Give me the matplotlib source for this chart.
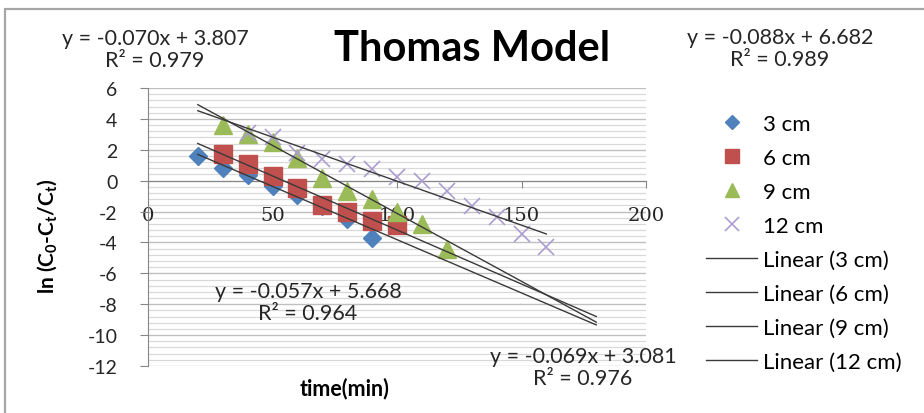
import numpy as np
import matplotlib
matplotlib.use('Agg')
import matplotlib.pyplot as plt
from matplotlib.patches import Rectangle

plt.rcParams['font.family'] = ['Lato', 'DejaVu Sans']
plt.rcParams['mathtext.fontset'] = 'custom'
plt.rcParams['mathtext.rm'] = 'Lato'
plt.rcParams['mathtext.bf'] = 'Lato:bold'
plt.rcParams['axes.unicode_minus'] = False

# bed depth series: time (min) vs ln(C0-Ct/Ct)
t_3 = [20, 30, 40, 50, 60, 70, 80, 90]
y_3 = [1.6, 0.8, 0.37, -0.35, -0.95, -1.65, -2.5, -3.7]

t_6 = [30, 40, 50, 60, 70, 80, 90, 100]
y_6 = [1.7, 1.05, 0.3, -0.45, -1.6, -2.05, -2.6, -2.9]

t_9 = [30, 40, 50, 60, 70, 80, 90, 100, 110, 120]
y_9 = [3.6, 3.0, 2.5, 1.5, 0.2, -0.7, -1.2, -2.0, -2.8, -4.4]

t_12 = [40, 50, 60, 70, 80, 90, 100, 110, 120, 130, 140, 150, 160]
y_12 = [3.1, 2.85, 1.8, 1.4, 1.08, 0.76, 0.22, 0.0, -0.65, -1.62, -2.37, -3.45, -4.31]

# linear fits: slope, intercept, r2, x range of the trendline
fit_3 = (-0.069, 3.081, 0.976, 20, 180)
fit_6 = (-0.070, 3.807, 0.979, 20, 180)
fit_9 = (-0.088, 6.682, 0.989, 20, 180)
fit_12 = (-0.057, 5.668, 0.964, 20, 160)

fig = plt.figure(figsize=(9.24, 4.14), dpi=100)
fig.patches.append(Rectangle((5 / 924, -0.05), 1.0, 1 - 10 / 414 + 0.05,
                             transform=fig.transFigure, fill=False,
                             edgecolor='#a6a6a6', linewidth=1.6))

ax = fig.add_axes([148 / 924, 1 - 367 / 414, 498 / 924, 278 / 414])

# horizontal gridlines, major every 2 and minor every 0.4
for v in np.arange(-12, 6.01, 0.4):
    major = abs(v / 2 - round(v / 2)) < 1e-6
    ax.axhline(v, color='#bfbfbf' if major else '#d9d9d9',
               linewidth=1.0 if major else 0.9, zorder=0)

ax.plot(t_3, y_3, 'D', color='#4f81bd', ms=9, label='3 cm', zorder=3)
ax.plot(t_6, y_6, 's', color='#c0504d', ms=12.5, label='6 cm', zorder=3)
ax.plot(t_9, y_9, '^', color='#9bbb59', ms=13, label='9 cm', zorder=3)
ax.plot(t_12, y_12, 'x', color='#ab9dd0', ms=12, mew=1.2, label='12 cm', zorder=3)

for name, (m, b, r2, x0, x1) in [('3 cm', fit_3), ('6 cm', fit_6),
                                 ('9 cm', fit_9), ('12 cm', fit_12)]:
    xs = np.array([x0, x1])
    ax.plot(xs, m * xs + b, color='#3a3a3a', linewidth=1.0,
            label='Linear (' + name + ')', zorder=4)

ax.set_xlim(0, 200)
ax.set_ylim(-12, 6)
ax.set_xticks([0, 50, 100, 150, 200])
ax.set_yticks(np.arange(-12, 7, 2))
ax.spines['top'].set_visible(False)
ax.spines['right'].set_visible(False)
ax.spines['left'].set_color('#868686')
ax.spines['bottom'].set_color('#868686')
ax.spines['bottom'].set_position(('data', 0))
ax.tick_params(axis='y', direction='out', length=6, color='#868686',
               labelsize=14, pad=16, labelcolor='#262626')
ax.tick_params(axis='x', direction='out', length=5, color='#868686',
               labelsize=14, pad=13, labelcolor='#262626')
for lab in ax.get_xticklabels():
    lab.set_fontfamily('DejaVu Serif')
ax.set_facecolor('none')

fig.text(48 / 924, 1 - 236 / 414, r'ln (C$_\mathbf{0}$-C$_\mathbf{t}$/C$_\mathbf{t}$)',
         rotation=90, fontsize=15, fontweight='bold', ha='center', va='center')
fig.text(345 / 924, 1 - 389 / 414, 'time(min)', fontsize=15.5, fontweight='bold',
         ha='center', va='center')
fig.text(472 / 924, 1 - 49 / 414, 'Thomas Model', fontsize=30, fontweight='bold',
         ha='center', va='center')


def eq_label(x, y, fit, size):
    m, b, r2 = fit[:3]
    fig.text(x / 924, 1 - y / 414,
             'y = %.3fx + %.3f\nR² = %.3f' % (m, b, r2),
             fontsize=size, ha='center', va='center', linespacing=1.15,
             color='#262626')


eq_label(155, 50, fit_6, 15.5)
eq_label(780, 49, fit_9, 15.5)
eq_label(308, 303, fit_12, 15.5)
eq_label(583, 368, fit_3, 15.5)

ax.legend(loc='upper left', bbox_to_anchor=(686 / 924, 1 - 95 / 414),
          bbox_transform=fig.transFigure, frameon=False, fontsize=16,
          labelspacing=0.63, handlelength=2.3, handletextpad=0.25,
          markerscale=0.8)

fig.savefig('out.png', dpi=100, facecolor='white')
